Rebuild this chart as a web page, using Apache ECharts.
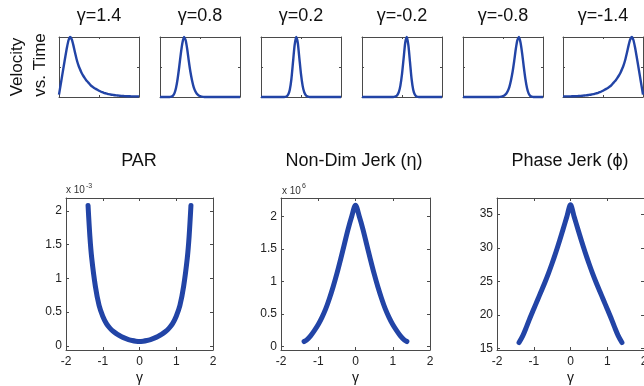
<!DOCTYPE html>
<html>
<head>
<meta charset="utf-8">
<script src="https://cdn.jsdelivr.net/npm/echarts@6/dist/echarts.min.js"></script>
<style>
html,body{margin:0;padding:0;background:#fff;}
#chart{width:644px;height:386px;}
</style>
</head>
<body>
<div id="chart"></div>
<script>
// ---------- DATA ----------
const gammaLabels = ['γ=1.4', 'γ=0.8', 'γ=0.2', 'γ=-0.2', 'γ=-0.8', 'γ=-1.4'];

// normalized time samples for velocity profiles
const timeNorm = [0,0.02,0.04,0.06,0.08,0.1,0.12,0.14,0.16,0.18,0.2,0.22,0.24,0.26,0.28,0.3,0.32,0.34,0.36,0.38,0.4,0.42,0.44,0.46,0.48,0.5,0.52,0.54,0.56,0.58,0.6,0.62,0.64,0.66,0.68,0.7,0.72,0.74,0.76,0.78,0.8,0.82,0.84,0.86,0.88,0.9,0.92,0.94,0.96,0.98,1];

const velG14  = [0.04,0.2,0.36,0.52,0.68,0.83,0.95,1.0,0.96,0.86,0.74,0.63,0.54,0.47,0.41,0.36,0.32,0.28,0.25,0.22,0.19,0.17,0.15,0.135,0.12,0.105,0.092,0.08,0.07,0.062,0.055,0.048,0.043,0.038,0.034,0.03,0.027,0.024,0.021,0.019,0.017,0.015,0.014,0.013,0.012,0.011,0.01,0.01,0.01,0.01,0.01];
const velG08  = [0,0,0,0,0,0,0,0.005,0.02,0.06,0.15,0.3,0.5,0.72,0.9,1.0,0.95,0.8,0.6,0.42,0.28,0.17,0.1,0.055,0.03,0.015,0.007,0.003,0,0,0,0,0,0,0,0,0,0,0,0,0,0,0,0,0,0,0,0,0,0,0];
const velG02  = [0,0,0,0,0,0,0,0,0,0,0,0,0,0,0,0.003,0.01,0.04,0.12,0.3,0.58,0.86,1.0,0.9,0.64,0.38,0.19,0.08,0.03,0.01,0.003,0,0,0,0,0,0,0,0,0,0,0,0,0,0,0,0,0,0,0,0];
const velGm02 = [0,0,0,0,0,0,0,0,0,0,0,0,0,0,0,0,0,0,0,0,0.003,0.01,0.03,0.08,0.19,0.38,0.64,0.9,1.0,0.86,0.58,0.3,0.12,0.04,0.01,0.003,0,0,0,0,0,0,0,0,0,0,0,0,0,0,0];
const velGm08 = [0,0,0,0,0,0,0,0,0,0,0,0,0,0,0,0,0,0,0,0,0,0,0,0.003,0.007,0.015,0.03,0.055,0.1,0.17,0.28,0.42,0.6,0.8,0.95,1.0,0.9,0.72,0.5,0.3,0.15,0.06,0.02,0.005,0,0,0,0,0,0,0];
const velGm14 = [0.01,0.01,0.01,0.01,0.01,0.011,0.012,0.013,0.014,0.015,0.017,0.019,0.021,0.024,0.027,0.03,0.034,0.038,0.043,0.048,0.055,0.062,0.07,0.08,0.092,0.105,0.12,0.135,0.15,0.17,0.19,0.22,0.25,0.28,0.32,0.36,0.41,0.47,0.54,0.63,0.74,0.86,0.96,1.0,0.95,0.83,0.68,0.52,0.36,0.2,0.04];

// bottom panels
const bottomTitles = ['PAR', 'Non-Dim Jerk (η)', 'Phase Jerk (ϕ)'];
const parGamma = [-1.4,-1.35,-1.3,-1.2,-1.1,-1.0,-0.9,-0.8,-0.7,-0.6,-0.5,-0.4,-0.3,-0.2,-0.1,0,0.1,0.2,0.3,0.4,0.5,0.6,0.7,0.8,0.9,1.0,1.1,1.2,1.3,1.35,1.4];
const parVals  = [2.08,1.62,1.3,0.88,0.6,0.44,0.33,0.26,0.21,0.17,0.14,0.115,0.095,0.08,0.07,0.065,0.07,0.08,0.095,0.115,0.14,0.17,0.21,0.26,0.33,0.44,0.6,0.88,1.3,1.62,2.08];
const jerkGamma = [-1.38,-1.3,-1.2,-1.1,-1.0,-0.9,-0.8,-0.7,-0.6,-0.5,-0.4,-0.3,-0.2,-0.1,0,0.1,0.2,0.3,0.4,0.5,0.6,0.7,0.8,0.9,1.0,1.1,1.2,1.3,1.38];
const jerkVals  = [0.08,0.11,0.17,0.25,0.34,0.45,0.58,0.74,0.92,1.12,1.34,1.57,1.8,2.0,2.17,2.0,1.8,1.57,1.34,1.12,0.92,0.74,0.58,0.45,0.34,0.25,0.17,0.11,0.08];
const phaseGamma = [-1.4,-1.3,-1.2,-1.1,-1.0,-0.9,-0.8,-0.7,-0.6,-0.5,-0.4,-0.3,-0.2,-0.1,0,0.1,0.2,0.3,0.4,0.5,0.6,0.7,0.8,0.9,1.0,1.1,1.2,1.3,1.4];
const phaseVals  = [15.9,16.9,18.2,19.6,20.9,22.2,23.5,24.8,26.2,27.7,29.3,31.0,32.8,34.6,36.4,34.6,32.8,31.0,29.3,27.7,26.2,24.8,23.5,22.2,20.9,19.6,18.2,16.9,15.9];

const parTicks = [0,0.5,1,1.5,2];
const jerkTicks = [0,0.5,1,1.5,2];
const phaseTicks = [15,20,25,30,35];

// ---------- LAYOUT / STYLE ----------
const FONT = 'Liberation Sans, Arial, sans-serif';
const LINE = '#2244a6';
const AXC = '#4a4a4a';
const topLefts = [59,160,261,362,463,563];
const velSets = [velG14, velG08, velG02, velGm02, velGm08, velGm14];

const grids = [], xAxes = [], yAxes = [], series = [], graphics = [];

function axisBase(extra) {
  return Object.assign({
    axisLine: {show: true, onZero: false, lineStyle: {color: AXC, width: 1}},
    splitLine: {show: false}
  }, extra);
}
function centeredText(x, y, text, font, rot) {
  const o = {type: 'text', x: x, y: y,
    style: {text: text, font: font, fill: '#111', align: 'center', verticalAlign: 'middle', textAlign: 'center', textVerticalAlign: 'middle'}};
  if (rot) o.rotation = rot;
  return o;
}

// top row
velSets.forEach((vals, i) => {
  const g = grids.length;
  grids.push({left: topLefts[i], top: 37, width: 80, height: 60, containLabel: false, outerBoundsMode: 'none'});
  const tk = {inside: true, length: 2, lineStyle: {color: AXC}};
  xAxes.push(axisBase({type: 'value', gridIndex: g, position: 'bottom', min: 0, max: 1, interval: 0.5, axisTick: tk, axisLabel: {show: false}}));
  xAxes.push(axisBase({type: 'value', gridIndex: g, position: 'top', min: 0, max: 1, interval: 0.5, axisTick: tk, axisLabel: {show: false}}));
  yAxes.push(axisBase({type: 'value', gridIndex: g, position: 'left', min: 0, max: 1, interval: 0.5, axisTick: tk, axisLabel: {show: false}}));
  yAxes.push(axisBase({type: 'value', gridIndex: g, position: 'right', min: 0, max: 1, interval: 0.5, axisTick: tk, axisLabel: {show: false}}));
  series.push({
    type: 'line', xAxisIndex: 2*g, yAxisIndex: 2*g,
    data: timeNorm.map((t, k) => [t, vals[k]]),
    symbol: 'none', smooth: 0.2, clip: false,
    lineStyle: {color: LINE, width: 2.4}
  });
  graphics.push(centeredText(topLefts[i] + 40, 16, gammaLabels[i], '18px ' + FONT));
});

// bottom row
const bLefts = [66, 281, 497];
const bWidths = [147, 149, 147];
const bRanges = [[-0.06, 2.19], [-0.05, 2.28], [14.8, 37.4]];
const bTicks = [parTicks, jerkTicks, phaseTicks];
const bX = [parGamma, jerkGamma, phaseGamma];
const bY = [parVals, jerkVals, phaseVals];
const bTitleX = [139, 354, 570];

for (let j = 0; j < 3; j++) {
  const g = grids.length;
  grids.push({left: bLefts[j], top: 198, width: bWidths[j], height: 152, containLabel: false, outerBoundsMode: 'none'});
  const tkX = {inside: true, length: 3, lineStyle: {color: AXC}};
  const tkY = {inside: true, length: 3, lineStyle: {color: AXC}, customValues: bTicks[j]};
  const lab = {color: '#222', fontSize: 12, fontFamily: FONT};
  xAxes.push(axisBase({type: 'value', gridIndex: g, position: 'bottom', min: -2, max: 2, interval: 1,
    axisTick: tkX, axisLabel: Object.assign({margin: 6}, lab),
    name: 'γ', nameLocation: 'middle', nameGap: 21, nameTextStyle: {fontSize: 14, color: '#111', fontFamily: FONT}}));
  xAxes.push(axisBase({type: 'value', gridIndex: g, position: 'top', min: -2, max: 2, interval: 1,
    axisTick: tkX, axisLabel: {show: false}}));
  yAxes.push(axisBase({type: 'value', gridIndex: g, position: 'left', min: bRanges[j][0], max: bRanges[j][1],
    axisTick: tkY, axisLabel: Object.assign({margin: 4, customValues: bTicks[j]}, lab)}));
  yAxes.push(axisBase({type: 'value', gridIndex: g, position: 'right', min: bRanges[j][0], max: bRanges[j][1],
    axisTick: tkY, axisLabel: {show: false}}));
  series.push({
    type: 'line', xAxisIndex: 2*g, yAxisIndex: 2*g,
    data: bX[j].map((x, k) => [x, bY[j][k]]),
    symbol: 'none', smooth: 0.3, clip: false,
    lineStyle: {color: LINE, width: 5, cap: 'round', join: 'round'}
  });
  graphics.push(centeredText(bTitleX[j], 161, bottomTitles[j], '18px ' + FONT));
}

// multipliers
const smallStyle = (t, f) => ({text: t, font: f + 'px ' + FONT, fill: '#333', verticalAlign: 'middle', textVerticalAlign: 'middle'});
graphics.push({type: 'text', x: 66, y: 190, style: smallStyle('x 10', 10)});
graphics.push({type: 'text', x: 86, y: 186, style: smallStyle('-3', 7)});
graphics.push({type: 'text', x: 282, y: 191, style: smallStyle('x 10', 10)});
graphics.push({type: 'text', x: 302, y: 186, style: smallStyle('6', 7)});

// rotated row label
graphics.push(centeredText(17, 67, 'Velocity', '17px ' + FONT, Math.PI/2));
graphics.push(centeredText(40, 65, 'vs. Time', '17px ' + FONT, Math.PI/2));

const chart = echarts.init(document.getElementById('chart'), null, {renderer: 'canvas'});
chart.setOption({
  animation: false,
  backgroundColor: '#fff',
  grid: grids,
  xAxis: xAxes,
  yAxis: yAxes,
  series: series,
  graphic: graphics
});
</script>
</body>
</html>
